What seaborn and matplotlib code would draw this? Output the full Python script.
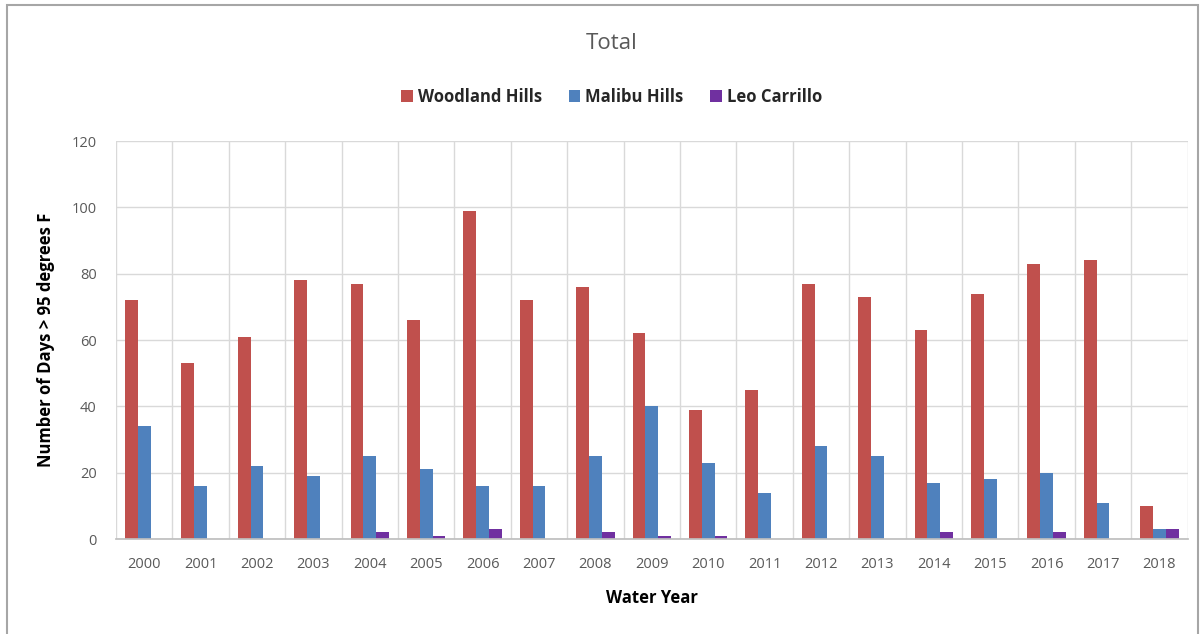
import matplotlib
matplotlib.use("Agg")
import matplotlib.pyplot as plt
import seaborn as sns
import pandas as pd
import numpy as np
from matplotlib.patches import Rectangle

years = [str(y) for y in range(2000, 2019)]
woodland_hills = [72, 53, 61, 78, 77, 66, 99, 72, 76, 62, 39, 45, 77, 73, 63, 74, 83, 84, 10]
malibu_hills = [34, 16, 22, 19, 25, 21, 16, 16, 25, 40, 23, 14, 28, 25, 17, 18, 20, 11, 3]
leo_carrillo = [0, 0, 0, 0, 2, 1, 3, 0, 2, 1, 1, 0, 0, 0, 2, 0, 2, 0, 3]
series_names = ["Woodland Hills", "Malibu Hills", "Leo Carrillo"]
y_ticks = [0, 20, 40, 60, 80, 100, 120]

df = pd.DataFrame({
    "Year": years * 3,
    "Station": np.repeat(series_names, len(years)),
    "Days": woodland_hills + malibu_hills + leo_carrillo,
})

sns.set_theme(style="white")
plt.rcParams["font.family"] = ["Open Sans", "DejaVu Sans"]

palette = {"Woodland Hills": "#C0504D", "Malibu Hills": "#4F81BD", "Leo Carrillo": "#7030A0"}

fig = plt.figure(figsize=(12.02, 6.34), dpi=100)
ax = fig.add_axes([0.0965, 0.1498, 0.8915, 0.6278])

sns.barplot(data=df, x="Year", y="Days", hue="Station", palette=palette,
            width=0.68, saturation=1, linewidth=0, ax=ax, legend=True)

ax.set_ylim(0, 120)
ax.set_xlim(-0.5, len(years) - 0.5)
ax.set_yticks(y_ticks)
ax.set_xticks(range(len(years)), years)
ax.set_xticks(np.arange(-0.5, len(years)), minor=True)
ax.grid(True, axis="y", which="major", color="#d9d9d9", linewidth=1)
ax.grid(True, axis="x", which="minor", color="#d9d9d9", linewidth=1)
ax.grid(False, axis="x", which="major")
ax.set_axisbelow(True)
for s in ["top", "right", "left"]:
    ax.spines[s].set_visible(False)
ax.spines["bottom"].set_color("#bfbfbf")
ax.tick_params(axis="both", which="both", length=0, labelsize=10.5, colors="#595959")
ax.tick_params(axis="x", pad=13)
ax.tick_params(axis="y", pad=14)

ax.set_xlabel("Water Year", fontsize=12, fontweight="bold", color="black", labelpad=12)
ax.set_ylabel("Number of Days > 95 degrees F", fontsize=12, fontweight="bold", color="black", labelpad=12)

fig.text(0.509, 0.932, "Total", ha="center", va="center", fontsize=16, color="#595959")

handles, labels = ax.get_legend_handles_labels()
ax.legend(handles, labels, loc="center", bbox_to_anchor=(0.509, 0.847), bbox_transform=fig.transFigure,
          ncol=3, frameon=False, handlelength=0.7, handleheight=0.7,
          handletextpad=0.3, columnspacing=1.6, prop={"weight": "bold", "size": 12})

fig.patches.append(Rectangle((0.006, -0.01), 0.991, 1.002, transform=fig.transFigure,
                             fill=False, edgecolor="#a6a6a6", linewidth=1.5))

fig.savefig("out.png", dpi=100)
